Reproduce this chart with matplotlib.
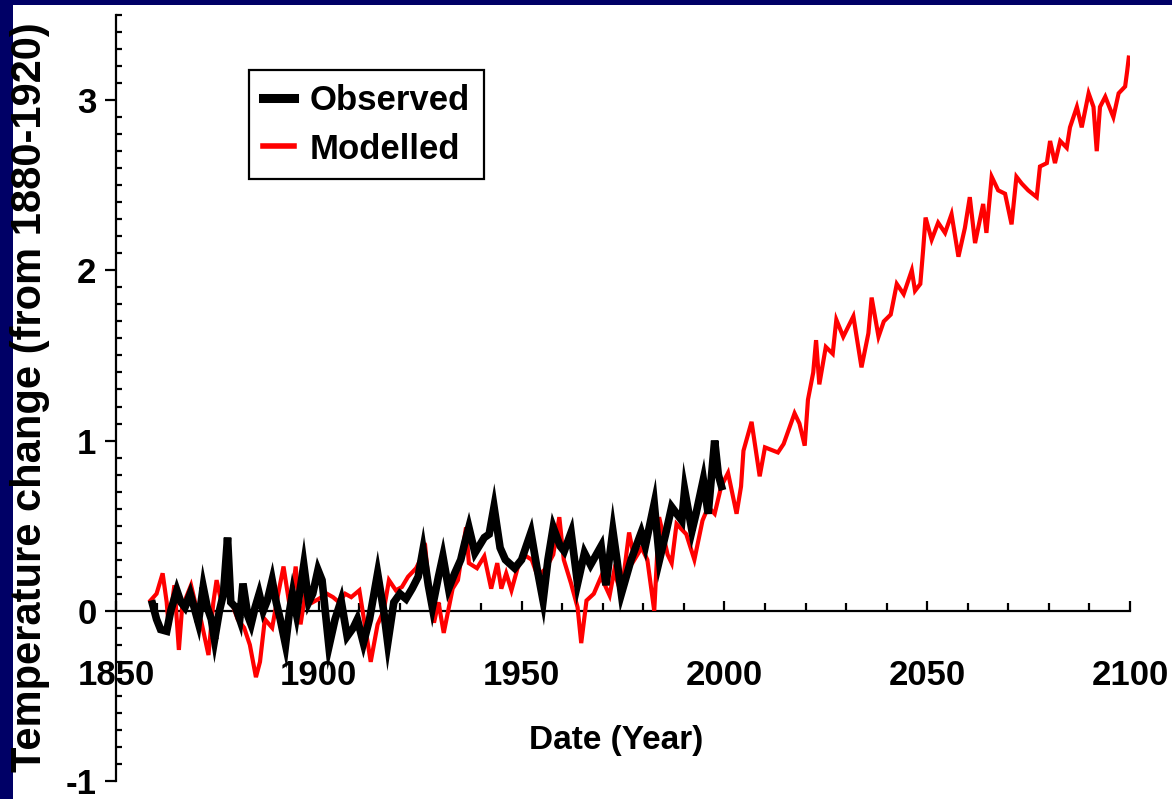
import matplotlib
matplotlib.use('Agg')
import matplotlib.pyplot as plt
from matplotlib.patches import Rectangle
from matplotlib.lines import Line2D
from matplotlib.ticker import MultipleLocator
from matplotlib import font_manager as fm

# ---------------- data ----------------
obs_years = [1859.0, 1860.0, 1861.0, 1862.5, 1863.5, 1865.0, 1866.0, 1867.0, 1868.3, 1869.5,
             1870.3, 1871.5, 1872.5, 1873.5, 1874.3, 1875.5, 1876.5, 1877.5, 1878.3, 1879.5,
             1880.5, 1881.3, 1882.5, 1883.3, 1884.3, 1885.3, 1886.3, 1887.3, 1888.5, 1889.5,
             1890.5, 1891.8, 1892.8, 1893.5, 1894.5, 1896.3, 1897.5, 1898.5, 1899.8, 1900.8,
             1902.5, 1904.0, 1905.5, 1907.0, 1908.5, 1909.5, 1911.0, 1912.5, 1914.5, 1916.0,
             1917.0, 1918.5, 1920.0, 1921.5, 1923.0, 1924.5, 1925.7, 1927.0, 1928.0, 1929.5,
             1930.6, 1932.0, 1933.5, 1935.0, 1936.0, 1937.0, 1938.5, 1940.8, 1942.0, 1943.2,
             1944.7, 1946.0, 1948.3, 1950.0, 1952.3, 1953.8, 1955.3, 1956.5, 1957.8, 1959.5,
             1960.5, 1962.2, 1963.8, 1965.5, 1967.0, 1969.6, 1970.8, 1972.5, 1973.5, 1974.6,
             1977.0, 1979.5, 1980.5, 1982.7, 1984.0, 1985.5, 1987.0, 1989.5, 1990.2, 1992.0,
             1993.0, 1994.8, 1996.0, 1997.6, 1998.5, 1999.3]
obs_values = [0.04, -0.05, -0.11, -0.12, 0.00, 0.12, 0.05, 0.02, 0.10, 0.00,
              -0.07, 0.14, 0.02, -0.05, -0.17, 0.00, 0.10, 0.43, 0.05, 0.02,
              -0.05, 0.16, -0.03, -0.08, 0.02, 0.10, 0.00, 0.06, 0.18, 0.05,
              -0.05, -0.20, 0.00, 0.10, -0.02, 0.27, 0.05, 0.10, 0.24, 0.18,
              -0.21, -0.05, 0.06, -0.15, -0.10, -0.05, -0.19, -0.05, 0.22, 0.00,
              -0.19, 0.05, 0.10, 0.07, 0.13, 0.20, 0.36, 0.15, 0.02, 0.20,
              0.32, 0.13, 0.22, 0.30, 0.40, 0.49, 0.34, 0.43, 0.45, 0.61,
              0.37, 0.30, 0.25, 0.30, 0.46, 0.25, 0.06, 0.30, 0.49, 0.38,
              0.35, 0.46, 0.16, 0.34, 0.27, 0.38, 0.15, 0.47, 0.30, 0.10,
              0.30, 0.46, 0.38, 0.63, 0.30, 0.45, 0.61, 0.53, 0.71, 0.47,
              0.57, 0.77, 0.57, 1.00, 0.80, 0.73]

mod_years = [1858.5, 1860.0, 1861.5, 1862.5, 1863.0, 1864.4, 1865.5, 1866.3, 1868.5, 1870.0,
             1871.0, 1872.8, 1874.0, 1874.8, 1876.0, 1877.5, 1878.5, 1880.0, 1881.6, 1883.0,
             1884.5, 1885.5, 1886.7, 1888.5, 1890.0, 1891.3, 1893.0, 1894.3, 1895.5, 1897.0,
             1898.5, 1900.0, 1902.0, 1903.5, 1905.0, 1906.5, 1908.0, 1910.0, 1911.0, 1912.8,
             1914.5, 1916.0, 1917.3, 1919.0, 1920.5, 1922.0, 1924.0, 1926.3, 1927.3, 1928.4,
             1929.5, 1930.8, 1933.0, 1934.3, 1936.3, 1937.0, 1939.0, 1940.8, 1942.5, 1944.0,
             1945.0, 1946.2, 1947.5, 1949.0, 1950.5, 1952.5, 1954.0, 1956.0, 1957.8, 1959.3,
             1960.4, 1962.2, 1963.8, 1964.7, 1966.0, 1967.8, 1969.6, 1971.7, 1972.8, 1974.6,
             1976.5, 1977.8, 1979.6, 1981.0, 1982.7, 1983.9, 1986.0, 1987.0, 1988.2, 1990.6,
             1992.6, 1994.6, 1996.0, 1997.6, 1999.2, 2000.9, 2003.0, 2004.1, 2004.7, 2006.7,
             2008.7, 2010.0, 2013.2, 2014.6, 2017.3, 2018.5, 2019.8, 2020.6, 2021.9, 2022.6,
             2023.4, 2025.0, 2026.7, 2027.6, 2029.3, 2031.8, 2033.8, 2035.5, 2036.3, 2038.0,
             2039.3, 2041.0, 2042.5, 2044.2, 2046.2, 2047.0, 2048.3, 2049.0, 2049.6, 2051.1,
             2052.7, 2054.4, 2056.0, 2057.7, 2059.3, 2060.5, 2061.8, 2063.8, 2064.6, 2065.9,
             2067.5, 2069.2, 2070.8, 2072.0, 2073.3, 2074.9, 2077.0, 2077.8, 2079.5, 2080.3,
             2081.5, 2082.8, 2084.4, 2085.2, 2086.9, 2088.1, 2089.8, 2091.0, 2091.8, 2092.6,
             2093.9, 2095.9, 2097.2, 2098.8, 2099.3, 2099.7]
mod_values = [0.06, 0.10, 0.22, 0.05, -0.10, 0.15, -0.23, 0.02, 0.15, 0.00,
              -0.06, -0.26, 0.05, 0.18, 0.05, 0.15, 0.05, -0.05, -0.10, -0.20,
              -0.39, -0.30, -0.05, -0.10, 0.10, 0.26, 0.00, 0.26, -0.08, 0.15,
              0.05, 0.07, 0.10, 0.08, 0.05, 0.10, 0.08, 0.12, -0.03, -0.30,
              -0.08, 0.00, 0.18, 0.12, 0.14, 0.20, 0.25, 0.36, 0.10, -0.07,
              0.05, -0.13, 0.13, 0.18, 0.49, 0.28, 0.25, 0.32, 0.13, 0.28,
              0.13, 0.22, 0.12, 0.25, 0.33, 0.30, 0.20, 0.25, 0.33, 0.55,
              0.30, 0.16, 0.02, -0.19, 0.06, 0.10, 0.20, 0.09, 0.23, 0.10,
              0.46, 0.30, 0.37, 0.30, 0.00, 0.55, 0.33, 0.28, 0.51, 0.45,
              0.30, 0.53, 0.61, 0.57, 0.73, 0.81, 0.57, 0.73, 0.94, 1.11,
              0.79, 0.96, 0.93, 0.98, 1.16, 1.10, 0.97, 1.24, 1.40, 1.59,
              1.33, 1.55, 1.51, 1.71, 1.61, 1.73, 1.43, 1.63, 1.84, 1.61,
              1.70, 1.74, 1.92, 1.86, 2.00, 1.88, 1.92, 2.12, 2.31, 2.18,
              2.28, 2.22, 2.33, 2.08, 2.25, 2.43, 2.16, 2.39, 2.22, 2.55,
              2.47, 2.45, 2.27, 2.55, 2.51, 2.47, 2.43, 2.61, 2.63, 2.76,
              2.63, 2.76, 2.72, 2.84, 2.96, 2.84, 3.04, 2.96, 2.70, 2.96,
              3.02, 2.90, 3.04, 3.08, 3.17, 3.25]

x_ticks = [1850, 1900, 1950, 2000, 2050, 2100]
x_tick_labels = ['1850', '1900', '1950', '2000', '2050', '2100']
y_ticks = [-1, 0, 1, 2, 3]
y_tick_labels = ['-1', '0', '1', '2', '3']
series_labels = ['Observed', 'Modelled']

# ---------------- style ----------------
names = {f.name for f in fm.fontManager.ttflist}
fam = 'Liberation Sans Narrow' if 'Liberation Sans Narrow' in names else 'Liberation Sans'
plt.rcParams['font.family'] = [fam, 'DejaVu Sans']

W, H = 1172, 799
NAVY = '#000066'
fig = plt.figure(figsize=(W / 100, H / 100), dpi=100, facecolor=NAVY)
fig.patches.append(Rectangle((13 / W, 0), 1, 1 - 5 / H, transform=fig.transFigure,
                             facecolor='white', edgecolor='none', zorder=-10))

ax = fig.add_axes([116 / W, (H - 781) / H, (1130 - 116) / W, (781 - 15) / H])
ax.set_zorder(1)
ax.set_facecolor('none')
ax.set_xlim(1850, 2100)
ax.set_ylim(-1, 3.5)

ax.plot(mod_years, mod_values, color='#ff0000', lw=3.0, solid_joinstyle='miter', zorder=3)
ax.plot(obs_years, obs_values, color='black', lw=5.5, solid_joinstyle='miter', zorder=4)

for s in ['top', 'right']:
    ax.spines[s].set_visible(False)
ax.spines['bottom'].set_position(('data', 0))
ax.spines['bottom'].set_linewidth(1.6)
ax.spines['left'].set_linewidth(1.6)

ax.set_xticks(x_ticks)
ax.set_xticklabels(x_tick_labels)
ax.xaxis.set_minor_locator(MultipleLocator(10))
ax.set_yticks(y_ticks)
ax.set_yticklabels(y_tick_labels)
ax.yaxis.set_minor_locator(MultipleLocator(0.1))

FS = 25
ax.tick_params(axis='x', which='major', direction='in', length=7, width=1.6,
               pad=35, labelsize=FS)
ax.tick_params(axis='x', which='minor', direction='in', length=6, width=1.6)
ax.tick_params(axis='y', which='major', direction='out', length=8, width=1.6,
               pad=6, labelsize=FS)
ax.tick_params(axis='y', which='minor', direction='in', length=4, width=1.6)
for lab in ax.get_xticklabels() + ax.get_yticklabels():
    lab.set_fontweight('bold')

fig.text(616 / W, 1 - 740 / H, 'Date (Year)', ha='center', va='center',
         fontsize=24, fontweight='bold')
fig.text(30 / W, 1 - 397 / H, 'Temperature change (from 1880-1920)', ha='center',
         va='center', rotation=90, fontsize=30, fontweight='bold')

handles = [Line2D([], [], color='black', lw=6.5), Line2D([], [], color='#ff0000', lw=4.0)]
leg = ax.legend(handles, series_labels, loc='upper left',
                bbox_to_anchor=(249 / W, 1 - 70 / H), bbox_transform=fig.transFigure,
                borderaxespad=0, frameon=True, fancybox=False, framealpha=1,
                edgecolor='black', handlelength=0.9, handletextpad=0.45,
                borderpad=0.4, labelspacing=0.45,
                prop={'weight': 'bold', 'size': FS})
leg.get_frame().set_linewidth(1.6)

fig.savefig('out.png', dpi=100, facecolor=NAVY)
